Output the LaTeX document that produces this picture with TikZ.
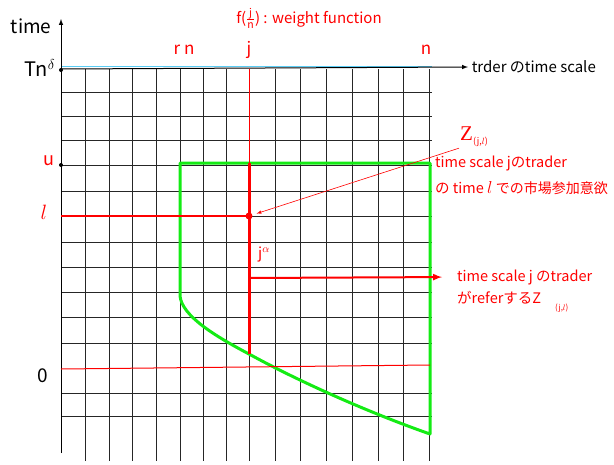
\documentclass[tikz,border=0pt]{standalone}
\usepackage{amsmath, amssymb}
\usepackage{fontspec}
\setmainfont{Noto Sans CJK JP}
\newfontfamily\chucoserif{Liberation Serif}
\usepackage{xcolor}
\usepackage{tikz}
\usetikzlibrary{calc, positioning}
\definecolor{xanh}{RGB}{20,235,20}
\definecolor{trời}{RGB}{90,205,245}

\begin{document}
\begin{tikzpicture}[>=latex, x=1pt, y=-1pt,
    luoi/.style={line width=0.9pt, black!85},
    nhan/.style={text=red, inner sep=1pt},
    chu/.style={font=\fontsize{14.5}{16}\selectfont, text=red, anchor=west, inner sep=1pt}]
    \useasboundingbox (0,0) rectangle (614,464);

    % Vẽ lưới
    \foreach \x in {85,109,132,156,180,203,226,249,275,300,326,352,378,403,429}
        \draw[luoi] (\x,69) -- (\x,461);
    \foreach \y in {92,116,140,165,191,216,242,267,292,317,343,393,416}
        \draw[luoi] (61,\y) -- (432,\y);
    \draw[trời, line width=1pt] (61,66) -- (432,66);

    % Vẽ hệ trục
    \draw[->, line width=1pt] (61,453) -- (61,19);
    \draw[->, line width=1pt] (61,69) -- (468,67)
        node[right, font=\fontsize{15}{16}\selectfont] (truc) {trder のtime scale};
    \node[left, font=\fontsize{19}{20}\selectfont] (thoigian) at (55,26) {time};
    \fill (61,70) circle (2);
    \fill (61,165) circle (2);

    % Đánh dấu các mốc
    \node[font=\fontsize{20}{20}\selectfont] (tn) at (40,68) {Tn$^{\delta}$};
    \node[nhan, font=\fontsize{18}{18}\selectfont] (u) at (49,161) {u};
    \node[nhan, font=\fontsize{20}{20}\selectfont] (l) at (44,212) {$l$};
    \node[font=\fontsize{19}{19}\selectfont] (o) at (43,376) {0};
    \node[nhan, font=\fontsize{17}{17}\selectfont] (rn) at (184,50) {r n};
    \node[nhan, font=\fontsize{17}{17}\selectfont] (j) at (249,50) {j};
    \node[nhan, font=\fontsize{17}{17}\selectfont] (n) at (426,50) {n};
    \node[nhan, font=\fontsize{15}{18}\selectfont] (f) at (309,18)
        {f($\frac{\text{j}}{\text{n}}$) : weight function};

    % Miền màu xanh
    \draw[xanh, line width=3pt, line join=round]
        (180,296) -- (180,163) -- (430,163) -- (430,434)
        .. controls (370,413) and (300,382) .. (249,354)
        .. controls (215,336) and (182,316) .. (180,296);

    % Các đường màu đỏ
    \draw[red, line width=1pt] (249,69) -- (249,163);
    \draw[red, line width=3pt] (249,163) -- (249,354);
    \draw[red, line width=1.5pt] (61,216) -- (249,216);
    \draw[red, line width=1pt] (61,369) -- (430,365);
    \coordinate (p) at (249,216);
    \coordinate (q) at (249,278);
    \fill[red] (p) circle (3.5);
    \node[nhan, font=\fontsize{15}{15}\selectfont] (ja) at (264,254) {j$^{\alpha}$};

    % Chú thích
    \node[nhan, font=\fontsize{21}{21}\selectfont] (z) at (474,137)
        {{\chucoserif Z}\raisebox{-4pt}{\fontsize{9}{9}\selectfont(j,$l$)}};
    \node[chu] (z1) at (434,163) {time scale jのtrader};
    \node[chu] (z2) at (434,188)
        {の time {\fontsize{19}{19}\selectfont$l$} {\fontsize{14}{14}\selectfont での市場参加意欲}};
    \draw[->, red, line width=0.6pt, shorten >=8pt] (z.south west) -- (p);
    \node[chu] (r1) at (456,277) {time scale j のtrader};
    \node[chu] (r2) at (456,302)
        {がreferするZ\hspace{14pt}\raisebox{-7pt}{\fontsize{8}{8}\selectfont(j,$l$)}};
    \draw[->, red, line width=2pt, shorten >=14pt] (q) -- (r1.west);
\end{tikzpicture}
\end{document}
